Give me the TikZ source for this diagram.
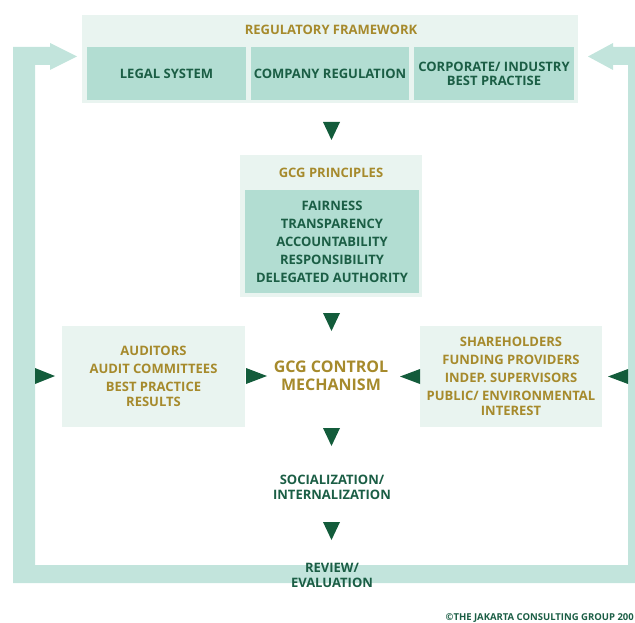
\documentclass[tikz,border=0pt]{standalone}
\usepackage{fontspec}
\setmainfont{Open Sans}
\definecolor{lightbg}{HTML}{E9F4F0}
\definecolor{midbox}{HTML}{B2DDD2}
\definecolor{band}{HTML}{C2E4DC}
\definecolor{dgreen}{HTML}{1B5E45}
\definecolor{gold}{HTML}{A68A2C}
\definecolor{tricol}{HTML}{135C3B}
\tikzset{
  bgbox/.style={fill=lightbg, draw=none, inner sep=0pt},
  innerbox/.style={fill=midbox, draw=none, inner sep=0pt, align=center, text=dgreen,
     font=\fontsize{13}{14}\selectfont\bfseries},
  goldtitle/.style={text=gold, font=\fontsize{13}{14}\selectfont\bfseries, inner sep=0pt},
  greentext/.style={text=dgreen, align=center, font=\fontsize{13}{15}\selectfont\bfseries, inner sep=0pt},
  goldtext/.style={text=gold, align=center, font=\fontsize{13}{15}\selectfont\bfseries, inner sep=0pt},
  marker/.style={fill=tricol, draw=none},
}
\begin{document}
\begin{tikzpicture}[x=1pt,y=-1pt]
\useasboundingbox (0,0) rectangle (635,623);
\clip (0,0) rectangle (635,623);
% feedback band
\fill[band] (13,583) -- (13,47) -- (50,47) -- (50,43) -- (77,56.5) -- (50,70) -- (50,65) -- (35,65)
  -- (35,565) -- (628,565) -- (628,65) -- (613,65) -- (613,70) -- (588,56.5) -- (613,43) -- (613,47)
  -- (650,47) -- (650,583) -- cycle;
% regulatory framework
\node[bgbox, minimum width=496, minimum height=88] (reg) at (330,59) {};
\node[goldtitle] (regtitle) at (331,30) {REGULATORY FRAMEWORK};
\node[innerbox, minimum width=159, minimum height=53] (legal) at (166.5,73.5) {LEGAL SYSTEM};
\node[innerbox, minimum width=158, minimum height=53] (company) at (330,73.5) {COMPANY REGULATION};
\node[innerbox, minimum width=160, minimum height=53] (corp) at (494,73.5) {CORPORATE/ INDUSTRY\\BEST PRACTISE};
% arrow 1
\fill[marker] (323,122) -- (340,122) -- (331.5,140) -- cycle;
% GCG principles
\node[bgbox, minimum width=182, minimum height=142] (gcg) at (331,226) {};
\node[goldtitle] (gcgtitle) at (331,173) {GCG PRINCIPLES};
\node[innerbox, minimum width=174, minimum height=103, font=\fontsize{13}{18}\selectfont\bfseries] (principles) at (332,241.5)
  {FAIRNESS\\TRANSPARENCY\\ACCOUNTABILITY\\RESPONSIBILITY\\DELEGATED AUTHORITY};
% arrow 2
\fill[marker] (323,313) -- (340,313) -- (331.5,331) -- cycle;
% side boxes
\node[bgbox, minimum width=183, minimum height=101] (audbox) at (153.5,376.5) {};
\node[goldtext] (aud) at (153.5,376.5) {AUDITORS\\[3pt]AUDIT COMMITTEES\\[3pt]BEST PRACTICE\\RESULTS};
\node[bgbox, minimum width=182, minimum height=101] (sharebox) at (511,376.5) {};
\node[goldtext] (share) at (511,376.5) {SHAREHOLDERS\\[3pt]FUNDING PROVIDERS\\[3pt]INDEP. SUPERVISORS\\[3pt]PUBLIC/ ENVIRONMENTAL\\INTEREST};
% mechanism
\node[text=gold, align=center, inner sep=0pt, font=\fontsize{16}{18}\selectfont\bfseries] (mech) at (331,376) {GCG CONTROL\\MECHANISM};
% side markers
\fill[marker] (35,368) -- (55,376) -- (35,384) -- cycle;
\fill[marker] (246,368) -- (267,376) -- (246,384) -- cycle;
\fill[marker] (420,369) -- (400,376.5) -- (420,384) -- cycle;
\fill[marker] (628,369) -- (608,376.5) -- (628,384) -- cycle;
% arrow 3
\fill[marker] (323,428) -- (340,428) -- (331.5,446) -- cycle;
\node[greentext] (soc) at (332,487) {SOCIALIZATION/\\INTERNALIZATION};
% arrow 4
\fill[marker] (323,522) -- (340,522) -- (331.5,540) -- cycle;
\node[greentext] (review) at (332,575) {REVIEW/\\EVALUATION};
% copyright
\node[text=dgreen, inner sep=0pt, anchor=base east, font=\fontsize{9.5}{10}\selectfont\bfseries] (copy) at (634,620) {\textcopyright THE JAKARTA CONSULTING GROUP 200};
\end{tikzpicture}
\end{document}
